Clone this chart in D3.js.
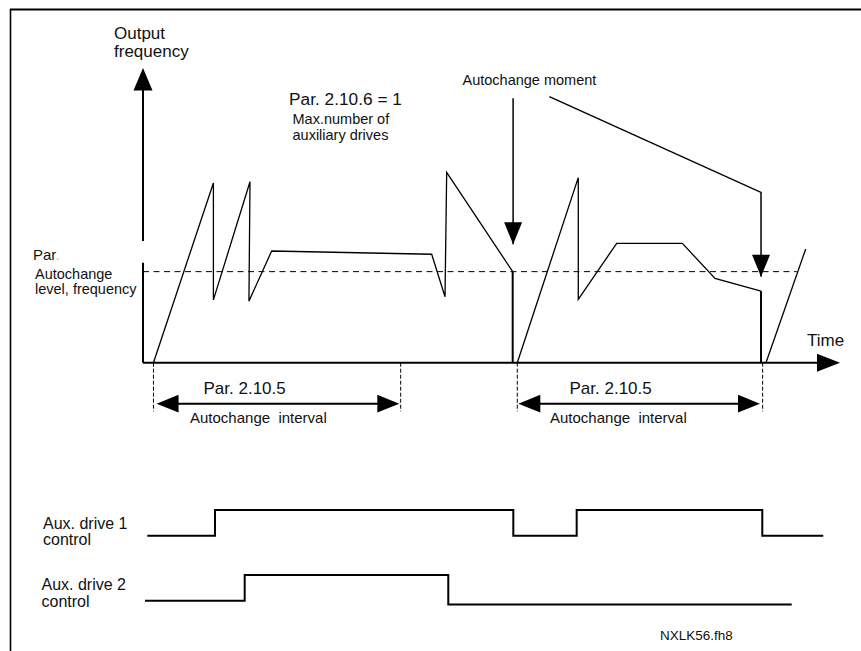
<!DOCTYPE html>
<html>
<head>
<meta charset="utf-8">
<script src="https://cdn.jsdelivr.net/npm/d3@7"></script>
<style>
  body { margin: 0; background: #fff; }
  svg text { font-family: "Liberation Sans", Arial, sans-serif; fill: #111; }
</style>
</head>
<body>
<div id="chart"></div>
<script>
// Canvas
const width = 861;
const height = 651;

// Time / frequency values (both on a 0..100 scale)
const curve1 = [[1.5, 0], [10.1, 61], [10.1, 21.3], [15.35, 61.4], [15.2, 20.9], [18.46, 37.9],
                [41.42, 36.8], [43.33, 22.4], [43.57, 64.6], [53.04, 30.9]];
const curve2 = [[53.7, 0], [62.45, 62.8], [62.45, 21.5], [67.96, 40.5], [77.38, 40.5],
                [82.07, 28.6], [88.67, 24.3]];
const curve3 = [[89.38, 0], [95.08, 38.6]];
const drops = [[53.04, 30.9], [88.67, 24.3]];   // vertical switch-off edges
const autochangeLevel = 30.9;
const levelEnd = 93.8;
const axisGap = [33.9, 41.3];                    // y axis is broken behind the "Par" label

// Autochange moments (arrows from the label)
const momentArrow1 = [[53.1, 89.7], [53.1, 40.2]];
const momentArrow2 = [[58.3, 90.3], [88.67, 57.8], [88.67, 29.2]];

// Autochange intervals: dashed markers and double arrows
const intervalMarks = [[1.5, 36.97], [53.7, 88.9]];
const intervalArrows = [[1.95, 36.77], [53.85, 88.52]];
const intervalLabels = ["Par. 2.10.5", "Par. 2.10.5"];

// Aux drive control signals: [time, state]
const aux1 = [[0.62, 0], [10.33, 1], [53.13, 0], [62.22, 1], [88.85, 0], [97.6, 0]];
const aux2 = [[0.29, 0], [14.59, 1], [43.8, -0.15], [93.07, -0.15]];

const svg = d3.select("#chart")
    .append("svg")
    .attr("width", width)
    .attr("height", height);

// Scales
const x = d3.scaleLinear().domain([0, 100]).range([143, 840]);
const y = d3.scaleLinear().domain([0, 100]).range([362.7, 68]);
const yAux1 = d3.scaleLinear().domain([0, 1]).range([535.7, 510]);
const yAux2 = d3.scaleLinear().domain([0, 1]).range([600.7, 575]);

const line = d3.line().x(d => x(d[0])).y(d => y(d[1]));

// Filled arrow head, pointing in direction (dx, dy)
function arrowHead(tx, ty, dx, dy, len, halfW) {
    const bx = tx - dx * len, by = ty - dy * len;
    const px = -dy * halfW, py = dx * halfW;
    svg.append("path")
        .attr("d", `M${tx},${ty}L${bx + px},${by + py}L${bx - px},${by - py}Z`)
        .attr("fill", "#000");
}

// Frame (top and left edges)
svg.append("line").attr("x1", 10).attr("y1", 9.5).attr("x2", width).attr("y2", 9.5)
    .attr("stroke", "#000").attr("stroke-width", 2);
svg.append("line").attr("x1", 10.5).attr("y1", 9).attr("x2", 10.5).attr("y2", height)
    .attr("stroke", "#000").attr("stroke-width", 1.6);

// Y axis (broken)
svg.append("path")
    .attr("d", line([[0, 0], [0, axisGap[0]]]) + line([[0, axisGap[1]], [0, 95]]))
    .attr("stroke", "#000").attr("stroke-width", 2).attr("fill", "none");
arrowHead(x(0), y(100), 0, -1, 22.5, 9.5);

// X axis
svg.append("path")
    .attr("d", line([[0, 0], [97, 0]]))
    .attr("stroke", "#000").attr("stroke-width", 2).attr("fill", "none");
arrowHead(x(100), y(0), 1, 0, 23, 9);

// Autochange level
svg.append("path")
    .attr("d", line([[0, autochangeLevel], [levelEnd, autochangeLevel]]))
    .attr("stroke", "#000").attr("stroke-width", 1)
    .attr("stroke-dasharray", "6,4.5").attr("fill", "none");

// Output frequency
[curve1, curve2, curve3].forEach(c => {
    svg.append("path").attr("d", line(c))
        .attr("stroke", "#000").attr("stroke-width", 1.3)
        .attr("fill", "none").attr("stroke-linejoin", "miter");
});
drops.forEach(d => {
    svg.append("path").attr("d", line([d, [d[0], 0]]))
        .attr("stroke", "#000").attr("stroke-width", 2).attr("fill", "none");
});

// Autochange moment arrows
[momentArrow1, momentArrow2].forEach(a => {
    svg.append("path").attr("d", line(a))
        .attr("stroke", "#000").attr("stroke-width", 1.5).attr("fill", "none");
    const tip = a[a.length - 1];
    arrowHead(x(tip[0]), y(tip[1]), 0, 1, 22, 9);
});

// Autochange intervals
intervalMarks.forEach(m => {
    m.forEach(t => {
        svg.append("path").attr("d", line([[t, 0], [t, -16.5]]))
            .attr("stroke", "#000").attr("stroke-width", 1)
            .attr("stroke-dasharray", "4,2").attr("fill", "none");
    });
});
intervalArrows.forEach(a => {
    const yy = y(-13.9);
    svg.append("line")
        .attr("x1", x(a[0]) + 10).attr("x2", x(a[1]) - 10)
        .attr("y1", yy).attr("y2", yy)
        .attr("stroke", "#000").attr("stroke-width", 2);
    arrowHead(x(a[0]), yy, -1, 0, 22, 8.8);
    arrowHead(x(a[1]), yy, 1, 0, 22, 8.8);
});

// Aux drive signals
const step = sc => d3.line().x(d => x(d[0])).y(d => sc(d[1])).curve(d3.curveStepAfter);
svg.append("path").attr("d", step(yAux1)(aux1))
    .attr("stroke", "#000").attr("stroke-width", 2).attr("fill", "none");
svg.append("path").attr("d", step(yAux2)(aux2))
    .attr("stroke", "#000").attr("stroke-width", 2).attr("fill", "none");

// Labels
function label(tx, ty, size, str) {
    return svg.append("text").attr("x", tx).attr("y", ty)
        .style("font-size", size + "px").text(str);
}
label(114, 38.5, 17, "Output");
label(114, 56.5, 17, "frequency");
label(289, 105, 17.3, "Par. 2.10.6 = 1");
label(292.5, 124, 14.5, "Max.number of");
label(292.5, 140, 14.5, "auxiliary drives");
label(462.5, 85, 14.5, "Autochange moment");
label(33, 259.5, 15, "Par").append("tspan").style("fill", "#bbb").text(".");
label(35, 278.5, 14.5, "Autochange");
label(35, 293.5, 14.5, "level, frequency");
label(807, 345.5, 17, "Time");

// interval texts sit left of the arrow centre in the original
const intervalLabelX = [203.5, 569.5];
const intervalTextX = [190, 550];
intervalLabels.forEach((s, i) => {
    label(intervalLabelX[i], 393.5, 17, s);
    svg.append("text").attr("x", intervalTextX[i]).attr("y", 423)
        .style("font-size", "15px")
        .attr("xml:space", "preserve")
        .text("Autochange  interval");
});

label(43, 528.5, 16, "Aux. drive 1");
label(43, 545, 16, "control");
label(41.5, 590, 16, "Aux. drive 2");
label(41.5, 606.5, 16, "control");
label(660, 640, 13.5, "NXLK56.fh8");
</script>
</body>
</html>
